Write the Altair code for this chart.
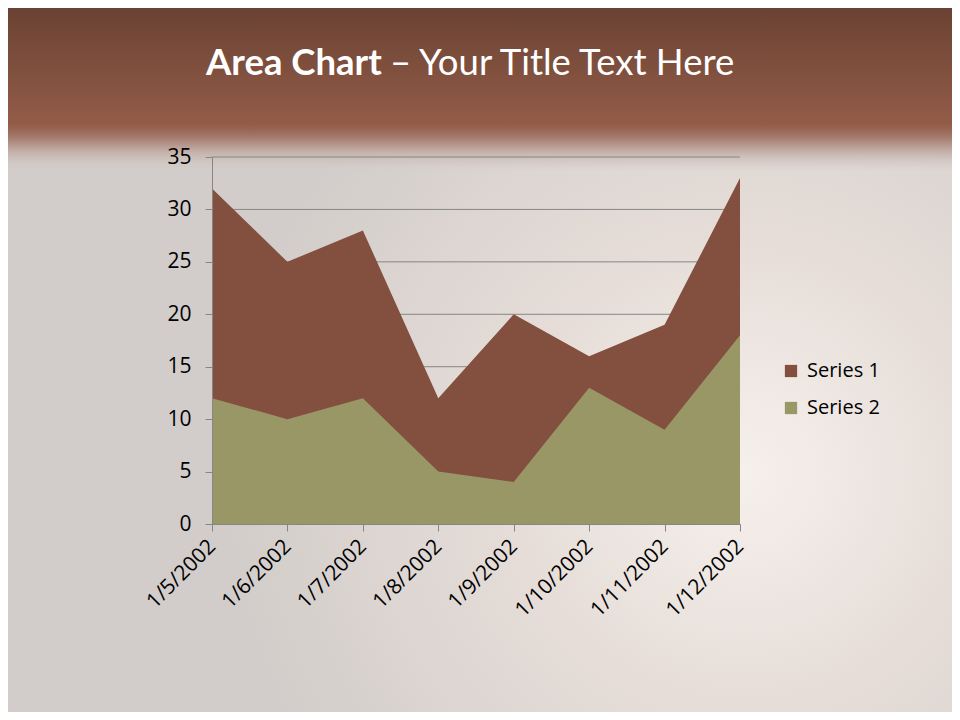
import altair as alt
import pandas as pd

dates = ["1/5/2002", "1/6/2002", "1/7/2002", "1/8/2002",
         "1/9/2002", "1/10/2002", "1/11/2002", "1/12/2002"]
series1 = [32, 25, 28, 12, 20, 16, 19, 33]
series2 = [12, 10, 12, 5, 4, 13, 9, 18]
series_names = ["Series 1", "Series 2"]
series_colors = ["#834f3f", "#999766"]
y_ticks = [0, 5, 10, 15, 20, 25, 30, 35]

rows = []
for name, vals in zip(series_names, [series1, series2]):
    for d, v in zip(dates, vals):
        rows.append({"date": d, "value": v, "series": name})
df = pd.DataFrame(rows)
grid_df = pd.DataFrame({"value": y_ticks})

TFONT = "Lato"
FONT = "Open Sans"
FS = 21
W, H = 528, 367
PL, PT = 204, 149
TOTW, TOTH = 944, 704

one = pd.DataFrame({"a": [0]})

y_axis = alt.Axis(title=None, values=y_ticks, labelFontSize=FS, labelFont=FONT,
                  labelColor="#000000", labelPadding=14,
                  tickColor="#868686", tickSize=7, domainColor="#868686",
                  grid=False, zindex=1)
y_scale = alt.Scale(domain=[0, 35], nice=False)

# decorative background glow
glow = alt.Chart(one).mark_rect(
    color=alt.Gradient(
        gradient="radial", x1=0.78, y1=0.62, r1=0.0, x2=0.78, y2=0.62, r2=0.55,
        stops=[alt.GradientStop(color="#f6f0ec", offset=0),
               alt.GradientStop(color="#e6ddd8", offset=0.45),
               alt.GradientStop(color="#d2cdca", offset=1)]
    )
).encode(x=alt.value(-PL), x2=alt.value(TOTW - PL),
         y=alt.value(-PT), y2=alt.value(TOTH - PT))

# header band
header = alt.Chart(one).mark_rect(
    color=alt.Gradient(
        gradient="linear", x1=0, y1=0, x2=0, y2=1,
        stops=[alt.GradientStop(color="#6a4233", offset=0),
               alt.GradientStop(color="#935c48", offset=0.71),
               alt.GradientStop(color="#a07062", offset=0.77),
               alt.GradientStop(color="#c4b2ab", offset=0.88),
               alt.GradientStop(color="rgba(214,206,202,0)", offset=1)]
    )
).encode(x=alt.value(-PL), x2=alt.value(TOTW - PL),
         y=alt.value(-PT), y2=alt.value(15))

title_bold = alt.Chart(one).mark_text(
    text="Area Chart", font=TFONT, fontSize=36.5, fontWeight="bold",
    color="white", align="left", baseline="alphabetic"
).encode(x=alt.value(-6), y=alt.value(-82))

title_rest = alt.Chart(one).mark_text(
    text="\u2013 Your Title Text Here", font=TFONT, fontSize=36.5, fontWeight="normal",
    color="white", align="left", baseline="alphabetic"
).encode(x=alt.value(178), y=alt.value(-82))

grid = alt.Chart(grid_df).mark_rule(color="#868686", strokeWidth=1).encode(
    y=alt.Y("value:Q", scale=y_scale, axis=y_axis),
    x=alt.value(0), x2=alt.value(W)
)

area = alt.Chart(df).mark_area(opacity=1, line=False).encode(
    x=alt.X("date:O", sort=dates, scale=alt.Scale(type="point", padding=0),
            axis=alt.Axis(title=None, labelAngle=-45, labelAlign="right",
                          labelBaseline="middle", labelFontSize=FS, labelFont=FONT,
                          labelColor="#000000", labelPadding=12,
                          tickColor="#868686", tickSize=7, domainColor="#868686",
                          grid=False, labelOverlap=False, zindex=1)),
    y=alt.Y("value:Q", stack=None, scale=y_scale, axis=y_axis),
    color=alt.Color("series:N", sort=series_names,
                    scale=alt.Scale(domain=series_names, range=series_colors),
                    legend=alt.Legend(title=None, orient="none", legendX=569, legendY=204,
                                      symbolType="square", symbolSize=150,
                                      symbolStrokeWidth=0, labelFontSize=20,
                                      labelFont=FONT, labelColor="#000000",
                                      rowPadding=17, labelOffset=6)),
    order=alt.Order("series:N")
)

chart = alt.layer(glow, header, title_bold, title_rest, grid, area).properties(
    width=W, height=H,
    autosize=alt.AutoSizeParams(type="none"),
    padding={"left": PL, "top": PT, "right": TOTW - PL - W, "bottom": TOTH - PT - H},
    background="#d2cdca"
).configure_view(stroke=None)

chart.save("out.html", embed_options={"renderer": "svg", "actions": False})
